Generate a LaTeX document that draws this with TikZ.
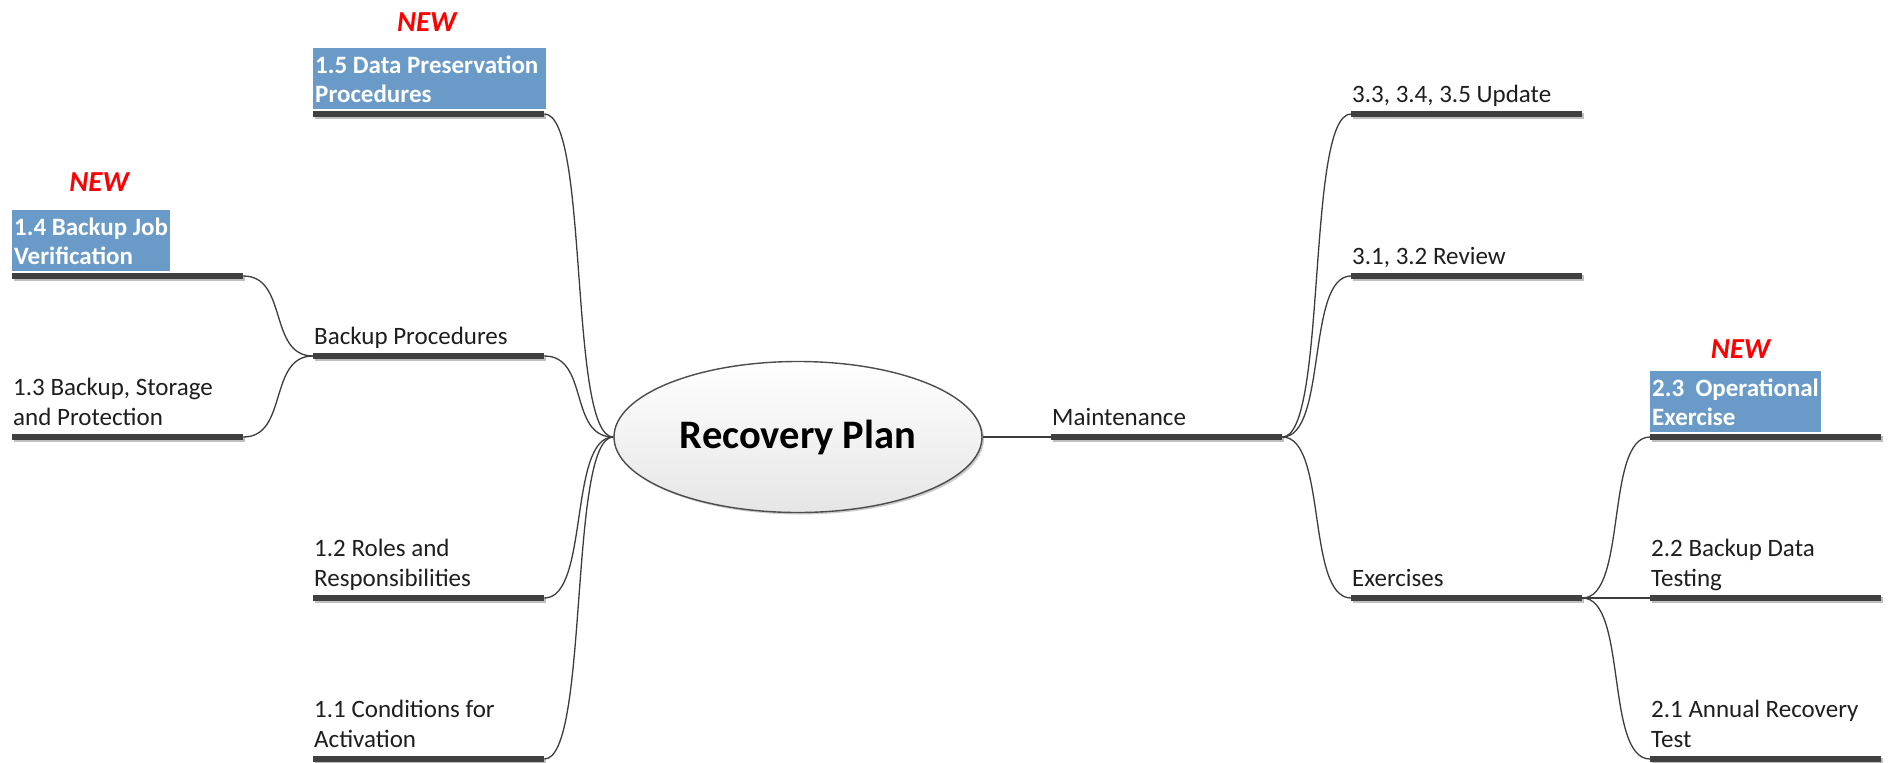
\documentclass[tikz,border=0pt]{standalone}
\usepackage{fontspec}
\setmainfont{Carlito}
\usetikzlibrary{shapes.geometric,shadows,calc}
\definecolor{bardark}{RGB}{64,64,64}
\definecolor{boxblue}{RGB}{106,155,200}
\definecolor{linegray}{RGB}{60,60,60}
\definecolor{newred}{RGB}{255,0,0}
\definecolor{txtgray}{RGB}{30,30,30}
\newcommand\lowstrut{\rule[-3pt]{0pt}{3pt}}
\newcommand\highstrut{\rule{0pt}{22pt}}
\begin{document}
\begin{tikzpicture}[x=1pt,y=-1pt,
  barnode/.style={anchor=west, minimum width=231pt, minimum height=6pt, inner sep=0pt, fill=bardark, draw=none,
    drop shadow={shadow xshift=1.5pt, shadow yshift=-1.5pt, opacity=0.25, fill=black}},
  topic/.style={anchor=south west, inner xsep=1pt, inner ysep=3pt, align=left, yshift=-3.5pt,
    font=\fontsize{25}{29.5}\selectfont, text=txtgray},
  bluetopic/.style={anchor=south west, inner xsep=2pt, inner ysep=3pt, align=left, yshift=2pt,
    fill=boxblue, text=white, font=\fontsize{25}{29.5}\selectfont\bfseries},
  newlbl/.style={anchor=base, text=newred, inner sep=0pt, font=\fontsize{29}{35}\selectfont\bfseries\itshape},
  conn/.style={draw=linegray, line width=1.3pt},
  central/.style={ellipse, draw=black!70, line width=1.4pt, minimum width=368pt, minimum height=151pt,
    inner sep=0pt, top color=white, bottom color=black!10, text=black,
    font=\fontsize{40.5}{48}\selectfont\bfseries,
    drop shadow={shadow xshift=2pt, shadow yshift=-2pt, opacity=0.2, fill=black}}
]
\fill[white] (0,0) rectangle (1888,763);
\useasboundingbox (0,0) rectangle (1888,763);

\node[central] (e) at (798,437) {Recovery Plan};

% bars
\node[barnode] (b15) at (313,114) {};
\node[barnode] (b14) at (12,276) {};
\node[barnode] (bbp) at (313,356) {};
\node[barnode] (b13) at (12,437) {};
\node[barnode] (b12) at (313,598) {};
\node[barnode] (b11) at (313,759) {};
\node[barnode] (bm) at (1051,437) {};
\node[barnode] (bu) at (1351,114) {};
\node[barnode] (br) at (1351,276) {};
\node[barnode] (bx) at (1351,598) {};
\node[barnode] (b23) at (1650,437) {};
\node[barnode] (b22) at (1650,598) {};
\node[barnode] (b21) at (1650,759) {};

% texts
\node[bluetopic] (t15) at (b15.north west) {\highstrut 1.5 Data Preservation\hspace*{6pt}\\Procedures\lowstrut};
\node[bluetopic] (t14) at (b14.north west) {\highstrut 1.4 Backup Job\\Verification\lowstrut};
\node[topic] (tbp) at (bbp.north west) {\strut Backup Procedures\strut};
\node[topic] (t13) at (b13.north west) {\strut 1.3 Backup, Storage\\and Protection\strut};
\node[topic] (t12) at (b12.north west) {\strut 1.2 Roles and\\Responsibilities\strut};
\node[topic] (t11) at (b11.north west) {\strut 1.1 Conditions for\\Activation\strut};
\node[topic] (tm) at (bm.north west) {\strut Maintenance\strut};
\node[topic] (tu) at (bu.north west) {\strut 3.3, 3.4, 3.5 Update\strut};
\node[topic] (tr) at (br.north west) {\strut 3.1, 3.2 Review\strut};
\node[topic] (tx) at (bx.north west) {\strut Exercises\strut};
\node[bluetopic] (t23) at (b23.north west) {\highstrut 2.3\ \ Operational\\Exercise\lowstrut};
\node[topic] (t22) at (b22.north west) {\strut 2.2 Backup Data\\Testing\strut};
\node[topic] (t21) at (b21.north west) {\strut 2.1 Annual Recovery\\Test\strut};

% NEW labels
\node[newlbl] (n15) at ($(t15.north)+(-3,-16)$) {NEW};
\node[newlbl] (n14) at ($(t14.north)+(8,-18)$) {NEW};
\node[newlbl] (n23) at ($(t23.north)+(5,-12)$) {NEW};

% connectors left
\draw[conn] (b15.east) .. controls +(45,0) and +(-45,0) .. (e.west);
\draw[conn] (bbp.east) .. controls +(45,0) and +(-45,0) .. (e.west);
\draw[conn] (b12.east) .. controls +(45,0) and +(-45,0) .. (e.west);
\draw[conn] (b11.east) .. controls +(45,0) and +(-45,0) .. (e.west);
\draw[conn] (b14.east) .. controls +(45,0) and +(-45,0) .. (bbp.west);
\draw[conn] (b13.east) .. controls +(45,0) and +(-45,0) .. (bbp.west);

% connectors right
\draw[conn] (e.east) -- (bm.west);
\draw[conn] (bm.east) .. controls +(45,0) and +(-45,0) .. (bu.west);
\draw[conn] (bm.east) .. controls +(45,0) and +(-45,0) .. (br.west);
\draw[conn] (bm.east) .. controls +(45,0) and +(-45,0) .. (bx.west);
\draw[conn] (bx.east) .. controls +(45,0) and +(-45,0) .. (b23.west);
\draw[conn] (bx.east) -- (b22.west);
\draw[conn] (bx.east) .. controls +(45,0) and +(-45,0) .. (b21.west);
\end{tikzpicture}
\end{document}
